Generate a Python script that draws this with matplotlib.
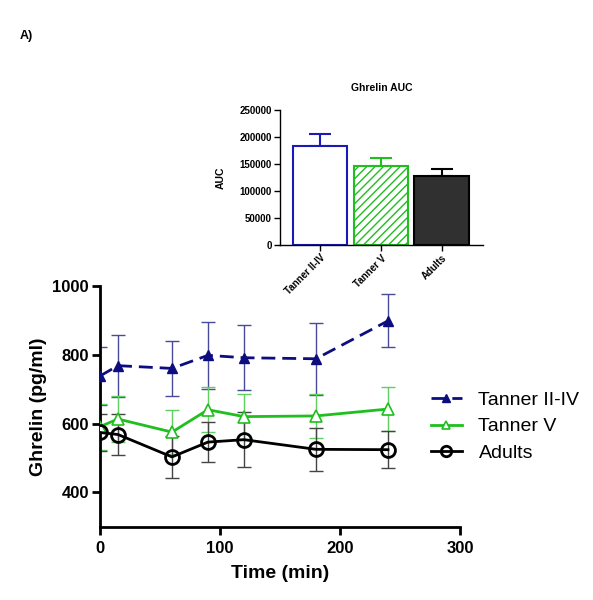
import matplotlib
matplotlib.use("Agg")
import matplotlib.pyplot as plt
import numpy as np

plt.rcParams['font.family'] = ['Liberation Sans', 'DejaVu Sans']
plt.rcParams['hatch.linewidth'] = 1.0

# ---- data ----
time = [0, 15, 60, 90, 120, 180, 240]
series = ["Tanner II-IV", "Tanner V", "Adults"]
tanner24 = [738, 768, 760, 798, 791, 788, 898]
tanner24_err = [83, 90, 79, 97, 95, 105, 77]
tanner5 = [591, 613, 575, 640, 620, 622, 642]
tanner5_err = [67, 68, 65, 65, 65, 65, 63]
adults = [574, 568, 503, 546, 553, 525, 524]
adults_err = [55, 60, 60, 57, 79, 62, 54]

auc_groups = ["Tanner II-IV", "Tanner V", "Adults"]
auc_vals = [183000, 146000, 127000]
auc_err = [22500, 15500, 13500]

navy = "#0d0d80"
green = "#1fbf1f"
fig = plt.figure(figsize=(5.93, 6.0), dpi=100)

# ---- main axes ----
ax = fig.add_axes([0.1686, 0.122, 0.607, 0.4017])
specs = [
    (tanner24, tanner24_err, dict(color=navy, ls=(0, (5, 2.5)), marker="^", ms=7,
                                  mfc=navy, mec=navy), "#4a4a9a"),
    (tanner5, tanner5_err, dict(color=green, ls="-", marker="^", ms=8,
                                mfc="white", mec=green, mew=1.2), "#5fd05f"),
    (adults, adults_err, dict(color="black", ls="-", marker="o", ms=10,
                              mfc="none", mec="black", mew=2), "#444444"),
]
handles = []
for (vals, errs, kw, ecol), name in zip(specs, series):
    ax.errorbar(time, vals, yerr=errs, fmt="none", ecolor=ecol, elinewidth=1.0,
                capsize=5, capthick=1.0, zorder=2)
    h, = ax.plot(time, vals, lw=2, label=name, zorder=3, **kw)
    handles.append(h)

ax.set_xlim(0, 300)
ax.set_ylim(300, 1000)
ax.set_xticks([0, 100, 200, 300])
ax.set_yticks([400, 600, 800, 1000])
for s in ["top", "right"]:
    ax.spines[s].set_visible(False)
for s in ["left", "bottom"]:
    ax.spines[s].set_linewidth(2)
ax.tick_params(width=2, length=6, labelsize=12, pad=2)
ax.tick_params(axis="x", pad=4)
for lab in ax.get_xticklabels() + ax.get_yticklabels():
    lab.set_fontweight("bold")
ax.set_xlabel("Time (min)", fontsize=14, fontweight="bold", labelpad=7)
ax.set_ylabel("Ghrelin (pg/ml)", fontsize=14, fontweight="bold", labelpad=4)

fig.legend(handles=handles, loc="center left", bbox_to_anchor=(0.697, 0.289),
           frameon=False, fontsize=14, handlelength=1.6, labelspacing=0.45,
           handletextpad=0.85, markerscale=0.75)

# ---- inset bar chart ----
axi = fig.add_axes([0.472, 0.592, 0.342, 0.2245])
x = np.arange(len(auc_groups))
axi.bar(x[0], auc_vals[0], width=0.9, color="white", edgecolor="#1a1ab8", lw=1.5, zorder=2)
axi.bar(x[1], auc_vals[1], width=0.9, color="white", edgecolor=green, hatch="////", lw=1.5, zorder=2)
axi.bar(x[2], auc_vals[2], width=0.9, color="#303030", edgecolor="black", lw=1.5, zorder=2)
axi.errorbar(x[0], auc_vals[0], yerr=[[0], [auc_err[0]]], fmt="none", ecolor="#1a1ab8",
             elinewidth=1.5, capsize=8, capthick=1.5, zorder=1)
axi.errorbar(x[1], auc_vals[1], yerr=[[0], [auc_err[1]]], fmt="none", ecolor=green,
             elinewidth=1.5, capsize=8, capthick=1.5, zorder=1)
axi.errorbar(x[2], auc_vals[2], yerr=[[0], [auc_err[2]]], fmt="none", ecolor="black",
             elinewidth=1.5, capsize=8, capthick=1.5, zorder=1)
axi.set_xlim(-0.66, 2.67)
axi.set_ylim(0, 250000)
axi.set_yticks(np.arange(0, 250001, 50000))
axi.set_xticks(x)
axi.set_xticklabels(auc_groups, rotation=45, ha="right", rotation_mode="anchor")
for s in ["top", "right"]:
    axi.spines[s].set_visible(False)
for s in ["left", "bottom"]:
    axi.spines[s].set_linewidth(1)
axi.tick_params(width=1, length=4.3, labelsize=7, pad=1.5)
for lab in axi.get_xticklabels() + axi.get_yticklabels():
    lab.set_fontweight("bold")
axi.set_ylabel("AUC", fontsize=7.5, fontweight="bold", labelpad=10)
axi.set_title("Ghrelin AUC", fontsize=7.5, fontweight="bold", pad=14)

fig.text(0.033, 0.935, "A)", fontsize=9, fontweight="bold")

fig.savefig("out.png", dpi=100)
